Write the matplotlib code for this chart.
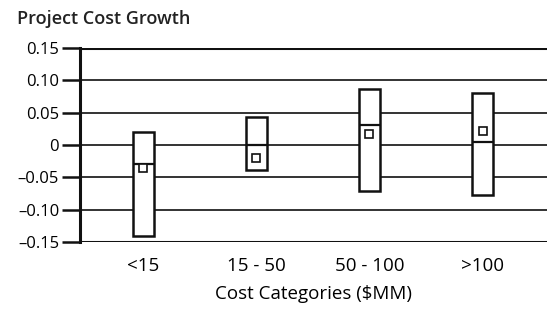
import matplotlib
matplotlib.use("Agg")
import matplotlib.pyplot as plt
import numpy as np

# values
categories = ["<15", "15 - 50", "50 - 100", ">100"]
box_low = [-0.141, -0.039, -0.071, -0.077]
box_high = [0.020, 0.043, 0.087, 0.081]
medians = [-0.029, 0.000, 0.031, 0.005]
means = [-0.036, -0.020, 0.017, 0.022]

yticks = [0.15, 0.10, 0.05, 0, -0.05, -0.10, -0.15]
ytick_labels = ["0.15", "0.10", "0.05", "0", "\u20130.05", "\u20130.10", "\u20130.15"]

plt.rcParams['font.family'] = ['Open Sans', 'DejaVu Sans']

fig = plt.figure(figsize=(5.47, 3.11), dpi=100)
ax = fig.add_axes([0.1463, 0.222, 0.8537, 0.624])

x = np.arange(len(categories))
width = 0.18

# gridlines behind the boxes
for y in yticks:
    lw = 2.2 if y in (0.15, -0.15) else 1.2
    ax.axhline(y, color="#111111", lw=lw, zorder=1)

low = np.array(box_low)
high = np.array(box_high)
ax.bar(x, high - low, bottom=low, width=width, facecolor="white",
       edgecolor="#111111", linewidth=1.8, zorder=2)
ax.hlines(medians, x - width / 2, x + width / 2, color="#111111", lw=1.6, zorder=3)
ax.plot(x, means, linestyle="none", marker="s", markersize=5.5,
        markerfacecolor="white", markeredgecolor="#111111", markeredgewidth=1.2, zorder=4)

ax.set_xlim(-0.56, 3.57)
ax.set_ylim(-0.15, 0.15)
ax.set_yticks(yticks)
ax.set_yticklabels(ytick_labels, fontsize=12)
ax.set_xticks(x)
ax.set_xticklabels(categories, fontsize=13.5)
ax.tick_params(axis="y", length=13, width=1.8, color="#111111", pad=2)
ax.tick_params(axis="x", length=0, pad=11)

for side in ["top", "right", "bottom"]:
    ax.spines[side].set_visible(False)
ax.spines["left"].set_linewidth(2.2)
ax.spines["left"].set_color("#111111")

ax.set_xlabel("Cost Categories ($MM)", fontsize=13.5, labelpad=7)
fig.text(0.031, 0.94, "Project Cost Growth", fontsize=13, ha="left", va="center",
         color="#222222", fontweight="semibold")

fig.savefig("out.png", dpi=100)
